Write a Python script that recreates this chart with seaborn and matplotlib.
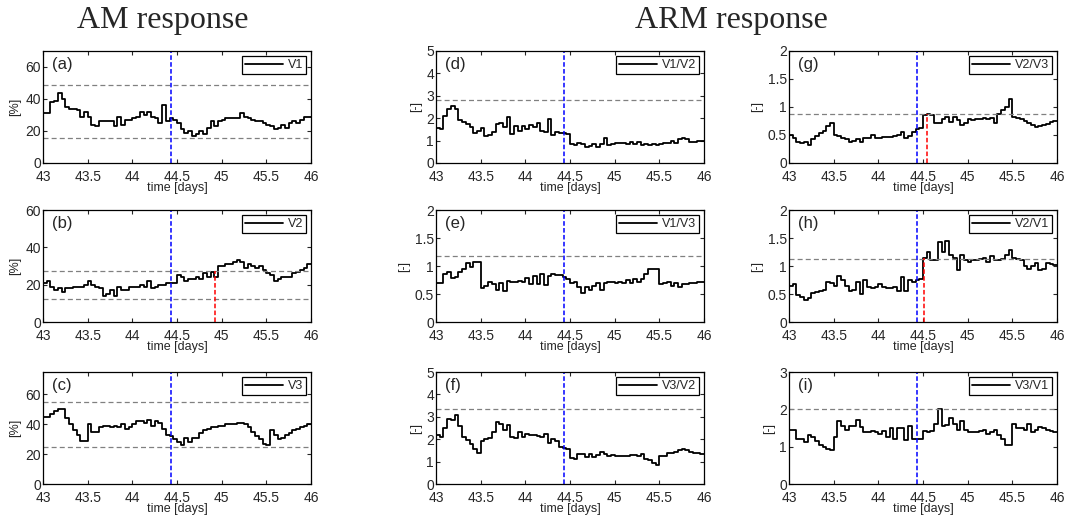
import numpy as np
import pandas as pd
import seaborn as sns
import matplotlib
matplotlib.use('Agg')
import matplotlib.pyplot as plt

# hourly values, 43.0 .. 46.0 days (72 steps)
v1 = [31, 31, 38, 39, 44, 40, 35, 34, 34, 33, 29, 32, 29, 24, 23, 26, 26, 26, 26, 23,
      29, 24, 27, 27, 28, 29, 32, 30, 32, 29, 28, 25, 36, 26, 28, 27, 25, 21, 19, 20,
      17, 18, 20, 18, 22, 26, 23, 26, 27, 28, 28, 28, 28, 31, 29, 28, 27, 26, 26, 25,
      24, 23, 21, 22, 24, 22, 25, 26, 25, 27, 29, 29]
v2 = [21, 22, 19, 17, 18, 16, 18, 18, 19, 19, 19, 20, 22, 20, 19, 18, 14, 15, 17, 14,
      19, 17, 17, 19, 19, 19, 20, 19, 22, 18, 19, 20, 20, 21, 21, 21, 25, 24, 22, 23,
      23, 24, 23, 26, 24, 27, 24, 30, 30, 31, 31, 32, 33, 32, 29, 31, 30, 29, 30, 28,
      26, 25, 22, 23, 24, 24, 24, 26, 27, 28, 29, 31]
v3 = [45, 45, 47, 49, 50, 50, 44, 40, 36, 33, 29, 29, 40, 35, 35, 38, 39, 39, 38, 39,
      38, 40, 37, 38, 40, 42, 42, 41, 43, 39, 42, 41, 37, 33, 32, 30, 28, 26, 31, 28,
      31, 31, 34, 36, 37, 38, 38, 39, 39, 40, 40, 40, 41, 41, 40, 38, 35, 32, 30, 27,
      26, 36, 33, 30, 31, 33, 34, 36, 37, 38, 39, 40]
v1_v2 = [1.55, 1.50, 2.10, 2.40, 2.55, 2.40, 1.90, 1.85, 1.75, 1.60, 1.35, 1.45, 1.55, 1.20,
         1.25, 1.40, 1.75, 1.80, 1.60, 2.05, 1.30, 1.65, 1.45, 1.65, 1.50, 1.70, 1.60, 1.80,
         1.45, 1.40, 1.95, 1.25, 1.40, 1.35, 1.35, 1.30, 0.85, 0.80, 0.90, 0.85, 0.70, 0.75,
         0.85, 0.70, 0.85, 1.10, 0.80, 0.85, 0.90, 0.90, 0.90, 0.85, 0.95, 0.85, 0.95, 0.80,
         0.85, 0.80, 0.85, 0.80, 0.85, 0.90, 0.90, 1.00, 0.90, 1.05, 1.10, 1.05, 0.95, 0.95,
         1.00, 1.00]
v1_v3 = [0.70, 0.70, 0.85, 0.90, 0.78, 0.80, 0.90, 0.95, 1.05, 0.98, 1.08, 1.08, 0.60, 0.65,
         0.72, 0.68, 0.58, 0.70, 0.55, 0.73, 0.72, 0.72, 0.74, 0.72, 0.78, 0.68, 0.82, 0.68,
         0.85, 0.66, 0.83, 0.85, 0.84, 0.84, 0.80, 0.76, 0.70, 0.72, 0.62, 0.52, 0.62, 0.57,
         0.65, 0.70, 0.58, 0.70, 0.72, 0.72, 0.70, 0.71, 0.70, 0.75, 0.70, 0.77, 0.72, 0.77,
         0.85, 0.95, 0.95, 0.95, 0.68, 0.70, 0.72, 0.65, 0.70, 0.62, 0.68, 0.67, 0.70, 0.70,
         0.72, 0.72]
v3_v2 = [2.20, 2.10, 2.50, 2.90, 2.85, 3.10, 2.60, 2.10, 1.95, 1.80, 1.55, 1.40, 1.90, 2.00,
         2.05, 2.30, 2.75, 2.70, 2.40, 2.65, 2.10, 2.05, 2.30, 2.10, 2.25, 2.20, 2.20, 2.15,
         2.10, 2.25, 1.85, 2.00, 1.90, 1.65, 1.60, 1.55, 1.15, 1.10, 1.35, 1.35, 1.20, 1.35,
         1.20, 1.30, 1.45, 1.35, 1.25, 1.30, 1.25, 1.25, 1.25, 1.25, 1.30, 1.30, 1.25, 1.35,
         1.10, 1.05, 0.95, 0.85, 1.25, 1.25, 1.40, 1.40, 1.45, 1.50, 1.55, 1.50, 1.45, 1.40,
         1.40, 1.35]
v2_v3 = [0.50, 0.45, 0.38, 0.36, 0.38, 0.33, 0.42, 0.48, 0.53, 0.58, 0.66, 0.72, 0.50, 0.48,
         0.45, 0.42, 0.38, 0.40, 0.42, 0.38, 0.44, 0.45, 0.50, 0.45, 0.45, 0.46, 0.46, 0.47,
         0.48, 0.50, 0.55, 0.45, 0.48, 0.55, 0.60, 0.62, 0.85, 0.88, 0.86, 0.72, 0.72, 0.78,
         0.82, 0.74, 0.82, 0.76, 0.68, 0.72, 0.78, 0.76, 0.78, 0.79, 0.80, 0.78, 0.80, 0.72,
         0.88, 0.95, 1.00, 1.15, 0.82, 0.80, 0.78, 0.75, 0.72, 0.68, 0.65, 0.66, 0.68, 0.70,
         0.73, 0.75]
v2_v1 = [0.65, 0.68, 0.48, 0.45, 0.40, 0.42, 0.52, 0.54, 0.56, 0.58, 0.72, 0.70, 0.65, 0.82,
         0.75, 0.65, 0.55, 0.58, 0.72, 0.50, 0.75, 0.62, 0.60, 0.62, 0.68, 0.62, 0.60, 0.60,
         0.62, 0.55, 0.80, 0.55, 0.75, 0.72, 0.75, 0.76, 1.15, 1.25, 1.10, 1.10, 1.42, 1.25,
         1.45, 1.20, 1.15, 0.92, 1.20, 1.10, 1.08, 1.10, 1.10, 1.12, 1.15, 1.08, 1.18, 1.10,
         1.10, 1.12, 1.20, 1.28, 1.15, 1.12, 1.10, 1.00, 0.95, 1.00, 1.05, 0.92, 0.95, 1.05,
         1.04, 1.02]
v3_v1 = [1.45, 1.45, 1.20, 1.20, 1.12, 1.30, 1.25, 1.15, 1.05, 1.00, 0.95, 0.92, 1.25, 1.70,
         1.55, 1.45, 1.55, 1.55, 1.72, 1.52, 1.38, 1.38, 1.42, 1.38, 1.35, 1.42, 1.25, 1.50,
         1.20, 1.50, 1.50, 1.18, 1.55, 1.20, 1.20, 1.20, 1.42, 1.40, 1.42, 1.60, 2.00, 1.55,
         1.58, 1.78, 1.60, 1.45, 1.70, 1.45, 1.40, 1.40, 1.40, 1.42, 1.45, 1.35, 1.40, 1.45,
         1.30, 1.20, 1.05, 1.05, 1.60, 1.50, 1.50, 1.45, 1.62, 1.38, 1.45, 1.52, 1.50, 1.45,
         1.42, 1.40]

labels = ['(a)', '(b)', '(c)', '(d)', '(e)', '(f)', '(g)', '(h)', '(i)']
names = ['V1', 'V2', 'V3', 'V1/V2', 'V1/V3', 'V3/V2', 'V2/V3', 'V2/V1', 'V3/V1']
series = [v1, v2, v3, v1_v2, v1_v3, v3_v2, v2_v3, v2_v1, v3_v1]
ylims = [70, 60, 75, 5, 2, 5, 2, 2, 3]
yticks = [[0, 20, 40, 60], [0, 20, 40, 60], [0, 20, 40, 60], [0, 1, 2, 3, 4, 5],
          [0, 0.5, 1, 1.5, 2], [0, 1, 2, 3, 4, 5], [0, 0.5, 1, 1.5, 2],
          [0, 0.5, 1, 1.5, 2], [0, 1, 2, 3]]
limits = [[48.5, 15.5], [27.5, 12.5], [55, 24.5], [2.8], [1.18], [3.37], [0.88], [1.12], [2.0]]
units = ['[%]', '[%]', '[%]', '[-]', '[-]', '[-]', '[-]', '[-]', '[-]']
onset = 44.43
# detection time and level per panel
alarms = {1: (44.93, 27.5), 6: (44.54, 0.88), 7: (44.51, 1.15)}

sns.set_style('ticks')
plt.rcParams['font.family'] = ['Liberation Sans', 'DejaVu Sans']
plt.rcParams['xtick.direction'] = 'in'
plt.rcParams['ytick.direction'] = 'in'

fig = plt.figure(figsize=(10.68, 5.15), dpi=100)
W, H = 1068, 515
lefts = [43, 436, 789]
tops = [51, 210, 372]
aw, ah = 268, 112

t = 43 + np.arange(73) / 24.0

for k in range(9):
    col, row = k // 3, k % 3
    ax = fig.add_axes([lefts[col] / W, 1 - (tops[row] + ah) / H, aw / W, ah / H])
    vals = series[k] + [series[k][-1]]
    df = pd.DataFrame({'time': t, 'val': vals})
    sns.lineplot(data=df, x='time', y='val', ax=ax, color='black', lw=1.3,
                 drawstyle='steps-post', label=names[k])
    for lv in limits[k]:
        ax.axhline(lv, color='#808080', ls='--', lw=0.9, dashes=(4, 2.5))
    ax.axvline(onset, color='blue', ls='--', lw=1.1, dashes=(3, 1.5))
    if k in alarms:
        xa, ya = alarms[k]
        ax.plot([xa, xa], [0, ya], color='red', ls='--', lw=1.1, dashes=(3, 1.5))
    ax.set_xlim(43, 46)
    ax.set_ylim(0, ylims[k])
    ax.set_xticks([43, 43.5, 44, 44.5, 45, 45.5, 46])
    ax.set_xticklabels(['43', '43.5', '44', '44.5', '45', '45.5', '46'])
    ax.set_yticks(yticks[k])
    ax.set_yticklabels([('%g' % v) for v in yticks[k]])
    ax.tick_params(labelsize=10, length=3, width=0.8, top=True, right=True)
    ax.tick_params(axis='x', pad=5)
    ax.tick_params(axis='y', pad=1.5)
    for s in ax.spines.values():
        s.set_linewidth(0.9)
        s.set_color('black')
    ax.set_xlabel('time [days]', fontsize=9, labelpad=-1.5)
    ax.set_ylabel(units[k], fontsize=9, labelpad=3)
    ax.text(0.035, 0.95, labels[k], transform=ax.transAxes, fontsize=12,
            va='top', ha='left')
    leg = ax.legend(loc='upper right', fontsize=9, frameon=True, fancybox=False,
                    framealpha=1, edgecolor='black', handlelength=3.0,
                    borderpad=0.25, handletextpad=0.4, borderaxespad=0.4)
    leg.get_frame().set_linewidth(0.9)

fig.text(163 / W, 1 - 28 / H, 'AM response', family='Liberation Serif',
         fontsize=23, ha='center', va='baseline')
fig.text(731 / W, 1 - 28 / H, 'ARM response', family='Liberation Serif',
         fontsize=23, ha='center', va='baseline')

fig.savefig('out.png', dpi=100)
